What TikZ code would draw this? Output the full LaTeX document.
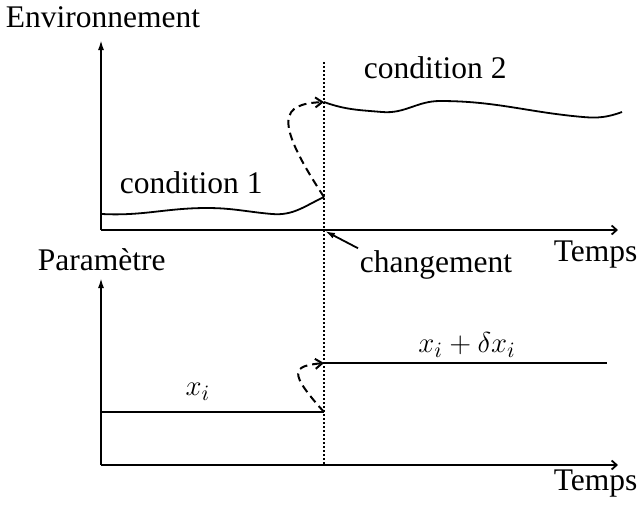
\documentclass[tikz,border=0pt]{standalone}
\usepackage{fontspec}
\setmainfont{Liberation Serif}
\usetikzlibrary{arrows.meta}

\begin{document}
\begin{tikzpicture}[x=0.5pt, y=-0.5pt, line width=0.9pt,
    every node/.style={inner sep=0.5pt, font=\fontsize{15.75}{19}\selectfont},
    yaxis/.style={-{Latex[length=5pt,width=3pt]}},
    xaxis/.style={-{Straight Barb[length=2.5pt,width=4.5pt]}},
    jump/.style={line width=1pt, dash pattern=on 4pt off 2.5pt, -{Straight Barb[length=3.5pt,width=5pt]}},
    marker/.style={line width=0.6pt, dash pattern=on 1pt off 1pt}]
      \useasboundingbox (0,0) rectangle (637,505);
      % axes
      \coordinate (O1) at (101,230);
      \coordinate (Y1) at (101,40);
      \coordinate (X1) at (618,230);
      \coordinate (O2) at (101,465);
      \coordinate (Y2) at (101,278);
      \coordinate (X2) at (618,465);
      \coordinate (top) at (324,62);
      \coordinate (bot) at (324,465);
      \coordinate (hit) at (325,231);
      % jump points
      \coordinate (envA) at (324,197);
      \coordinate (envB) at (324,102);
      \coordinate (parA) at (324,412);
      \coordinate (parB) at (324,363);

      \node[anchor=base west] (env) at (4,27) {Environnement};
      \node[anchor=base west] (par) at (36,270) {Paramètre};
      \node[anchor=base west] (t1) at (552,261) {Temps};
      \node[anchor=base west] (t2) at (552,490) {Temps};
      \node[anchor=base west] (chg) at (358,272) {changement};
      \node[anchor=base west] (c1) at (118,193) {condition 1};
      \node[anchor=base west] (c2) at (362,78) {condition 2};
      \node (xi) at (198,392) {$x_i$};
      \node (xd) at (467,345) {$x_i+\delta x_i$};

      \draw[yaxis] (O1) -- (Y1);
      \draw[xaxis] (O1) -- (X1);
      \draw[yaxis] (O2) -- (Y2);
      \draw[xaxis] (O2) -- (X2);
      \draw[marker] (top) -- (bot);
      \draw[-{Latex[length=5pt,width=3pt]}] (chg.north west) -- (hit);

      % environnement
      \draw (102,214) to[out=-3,in=180] (207,208) to[out=0,in=175] (272,214)
            to[out=-5,in=205] (envA);
      \draw (envB) to[out=-20,in=175] (382,112) to[out=-5,in=180] (440,101)
            to[out=0,in=175] (583,117) to[out=-5,in=200] (622,112);
      \draw[jump] (envA) .. controls (272,118) and (282,104) .. (envB);

      % parametre
      \draw (101,412) -- (parA);
      \draw (parB) -- (607,363);
      \draw[jump] (parA) .. controls (288,372) and (292,366) .. (parB);
\end{tikzpicture}
\end{document}
